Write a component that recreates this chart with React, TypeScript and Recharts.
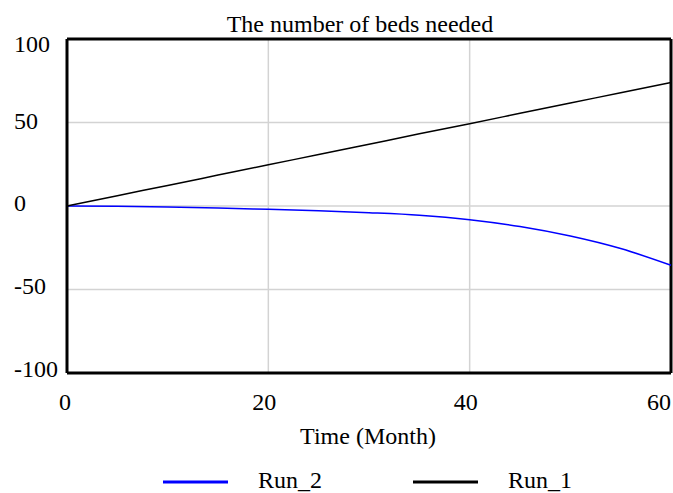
import React from 'react';
import { LineChart, Line, XAxis, YAxis, CartesianGrid, ReferenceLine } from 'recharts';

const months = [0, 5, 10, 15, 20, 25, 30, 35, 40, 45, 50, 55, 60];
const run1 = [0, 6.2, 12.3, 18.5, 24.7, 30.8, 37, 43.2, 49.3, 55.5, 61.7, 67.8, 74];
const run2 = [0, -0.2, -0.6, -1.2, -2, -2.9, -4, -5.5, -8.2, -12.3, -18, -25.5, -35.5];
const xTicks = [0, 20, 40, 60];
const yTicks = [-100, -50, 0, 50, 100];

const data = months.map((m, i) => ({ t: m, Run_1: run1[i], Run_2: run2[i] }));

const FONT = '"Liberation Serif", "DejaVu Serif", serif';
const FS = 24;

const yDy: Record<number, number> = { 100: 13, 50: 6, 0: 5, [-50]: 4, [-100]: 4 };

const YTick = (props: any) => {
  const { y, payload } = props;
  return (
    <text x={14} y={y} dy={yDy[payload.value] ?? 5} textAnchor="start" fontFamily={FONT} fontSize={FS} fill="#000">
      {payload.value}
    </text>
  );
};

const XTick = (props: any) => {
  const { x, y, payload } = props;
  const shift = payload.value === 0 ? -2 : payload.value === 60 ? -6 : -4;
  return (
    <text x={x + shift} y={y} dy={35} textAnchor="middle" fontFamily={FONT} fontSize={FS} fill="#000">
      {payload.value}
    </text>
  );
};

export default function App() {
  return (
    <div style={{ position: 'absolute', left: 0, top: 0, width: 673, height: 493, background: '#fff', overflow: 'hidden' }}>
      <LineChart width={673} height={493} data={data} margin={{ top: 39, right: 2, left: 0, bottom: 50 }}>
        <CartesianGrid stroke="#d3d3d3" strokeWidth={1.5} horizontalValues={yTicks} verticalValues={xTicks} />
        <XAxis
          dataKey="t"
          type="number"
          domain={[0, 60]}
          ticks={xTicks}
          tickLine={false}
          tickSize={0}
          tick={<XTick />}
          axisLine={{ stroke: '#000', strokeWidth: 3 }}
          height={70}
        />
        <YAxis
          type="number"
          domain={[-100, 100]}
          ticks={yTicks}
          tickLine={false}
          tickSize={0}
          tick={<YTick />}
          axisLine={{ stroke: '#000', strokeWidth: 3 }}
          width={67}
          interval={0}
        />
        <ReferenceLine y={100} stroke="#000" strokeWidth={3} />
        <ReferenceLine x={60} stroke="#000" strokeWidth={3} />
        <Line type="monotone" dataKey="Run_2" stroke="#0000ff" strokeWidth={1.5} dot={false} isAnimationActive={false} />
        <Line type="monotone" dataKey="Run_1" stroke="#000" strokeWidth={1.5} dot={false} isAnimationActive={false} />
      </LineChart>
      <svg width={673} height={493} style={{ position: 'absolute', left: 0, top: 0, pointerEvents: 'none' }}>
        <text x={360} y={32} textAnchor="middle" fontFamily={FONT} fontSize={FS} fill="#000">The number of beds needed</text>
        <text x={368} y={444} textAnchor="middle" fontFamily={FONT} fontSize={FS} fill="#000">Time (Month)</text>
        <line x1={163} x2={228} y1={482} y2={482} stroke="#0000ff" strokeWidth={3} />
        <text x={258} y={488} fontFamily={FONT} fontSize={FS} fill="#000">Run_2</text>
        <line x1={413} x2={478} y1={482} y2={482} stroke="#000" strokeWidth={3} />
        <text x={508} y={488} fontFamily={FONT} fontSize={FS} fill="#000">Run_1</text>
      </svg>
    </div>
  );
}
